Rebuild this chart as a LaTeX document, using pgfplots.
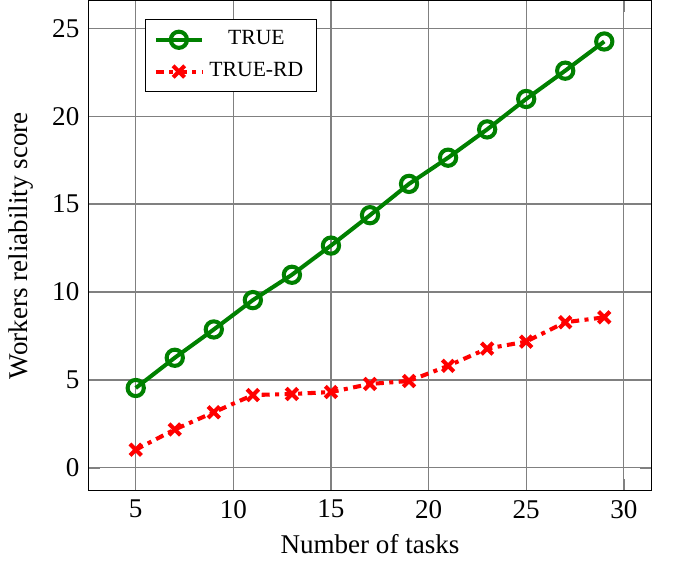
\documentclass[border=0pt]{standalone}
\usepackage{fontspec}
\setmainfont{Liberation Serif}
\usepackage{pgfplots}
\pgfplotsset{compat=1.18}
\definecolor{darkgreen}{RGB}{0,128,0}
\begin{document}
\begin{tikzpicture}
\begin{axis}[
  name=ax,
  scale only axis,
  width=7.3cm, height=6.36cm,
  xlabel={Number of tasks},
  ylabel={Workers reliability score},
  xlabel style={yshift=1pt},
  xtick={5,10,...,30},
  ytick={0,5,...,25},
  grid=major,
  major grid style={gray, line width=0.5pt},
  /pgf/number format/assume math mode=true,
  legend style={at={(0.1,0.962)}, anchor=north west, font=\footnotesize, row sep=1pt},
  legend cell align=center,
]
\addplot[darkgreen, line width=1.5pt, mark=o, mark size=3pt, mark options={solid}] coordinates {
  (5,4.54) (7,6.26) (9,7.87) (11,9.54) (13,10.98) (15,12.64) (17,14.37)
  (19,16.15) (21,17.64) (23,19.25) (25,20.98) (27,22.59) (29,24.25)
};
\addlegendentry{TRUE}
\addplot[red, line width=1.5pt, dash dot, mark=x, mark size=3pt, mark options={solid}] coordinates {
  (5,1.03) (7,2.18) (9,3.16) (11,4.14) (13,4.2) (15,4.31) (17,4.77)
  (19,4.94) (21,5.8) (23,6.78) (25,7.18) (27,8.28) (29,8.56)
};
\addlegendentry{TRUE-RD}
\end{axis}
% blank margin on the right of the plot
\path ([xshift=0.31cm]ax.south east);
\end{tikzpicture}
\end{document}
